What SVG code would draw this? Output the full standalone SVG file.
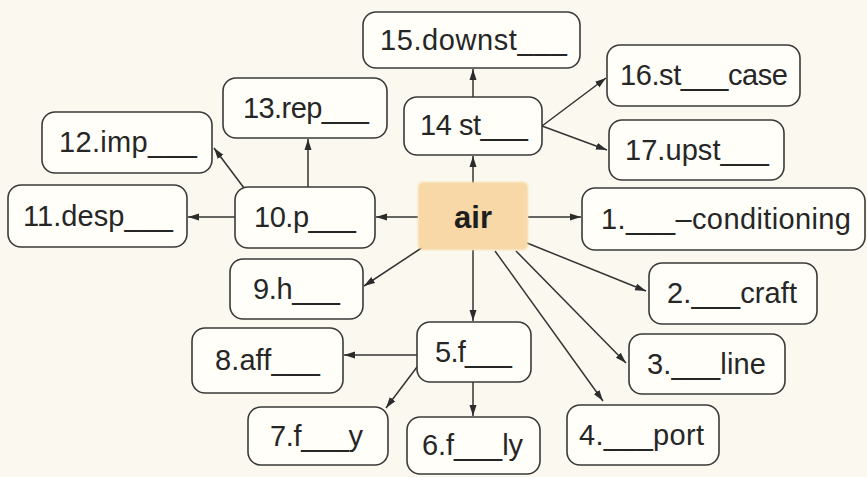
<svg xmlns="http://www.w3.org/2000/svg" width="867" height="477" viewBox="0 0 867 477">
<defs>
<style>
.box{fill:#fffef9;stroke:#3a3a3a;stroke-width:1.6}
.t{font-family:"Liberation Sans",Arial,sans-serif;font-size:29px;fill:#262626}
.c{fill:none;stroke:#333;stroke-width:1.5;marker-end:url(#ah)}
</style>
<marker id="ah" markerUnits="userSpaceOnUse" markerWidth="11" markerHeight="8" refX="11" refY="4" orient="auto">
<path d="M0,0.5 L11,4 L0,7.5 z" fill="#2c2c2c"/>
</marker>
<filter id="soft" x="-10%" y="-10%" width="120%" height="120%"><feGaussianBlur stdDeviation="1.2"/></filter>
</defs>
<rect width="867" height="477" fill="#fbf9ef"/>
<g id="connectors">
<path class="c" d="M473,183 L473,156"/>
<path class="c" d="M473,97 L473,69"/>
<path class="c" d="M542,126 L606,78"/>
<path class="c" d="M542,126 L607,150"/>
<path class="c" d="M418,217 L376,217"/>
<path class="c" d="M235,217 L188,217"/>
<path class="c" d="M244,188 L214,148"/>
<path class="c" d="M308,187 L308,139"/>
<path class="c" d="M528,217 L581,217"/>
<path class="c" d="M423,247 L364,286"/>
<path class="c" d="M473,250 L473,321"/>
<path class="c" d="M527,243 L646,291"/>
<path class="c" d="M516,251 L626,363"/>
<path class="c" d="M495,251 L603,401"/>
<path class="c" d="M417,355 L344,355"/>
<path class="c" d="M417,367 L386,408"/>
<path class="c" d="M473,382 L473,416"/>
</g>
<g id="air">
<rect x="418" y="182" width="110" height="68" rx="5" fill="#f7d8a6" filter="url(#soft)"/>
<text x="473" y="228" text-anchor="middle" font-family="Liberation Sans, Arial, sans-serif" font-size="31" font-weight="bold" fill="#1e1e1e">air</text>
</g>
<g id="n15"><rect class="box" x="363" y="12" width="217" height="56" rx="13"/><text class="t" x="380" y="50" textLength="187" lengthAdjust="spacing">15.downst___</text></g>
<g id="n14"><rect class="box" x="404" y="97" width="138" height="58" rx="13"/><text class="t" x="420" y="135" textLength="108" lengthAdjust="spacing">14 st___</text></g>
<g id="n13"><rect class="box" x="223" y="78" width="164" height="60" rx="13"/><text class="t" x="243" y="118" textLength="126" lengthAdjust="spacing">13.rep___</text></g>
<g id="n12"><rect class="box" x="42" y="112" width="170" height="61" rx="13"/><text class="t" x="59" y="152" textLength="138" lengthAdjust="spacing">12.imp___</text></g>
<g id="n16"><rect class="box" x="607" y="45" width="193" height="61" rx="13"/><text class="t" x="620" y="85" textLength="168" lengthAdjust="spacing">16.st___case</text></g>
<g id="n17"><rect class="box" x="609" y="120" width="175" height="60" rx="13"/><text class="t" x="625" y="160" textLength="144" lengthAdjust="spacing">17.upst___</text></g>
<g id="n11"><rect class="box" x="8" y="185" width="179" height="62" rx="13"/><text class="t" x="23" y="226" textLength="150" lengthAdjust="spacing">11.desp___</text></g>
<g id="n10"><rect class="box" x="235" y="187" width="140" height="61" rx="13"/><text class="t" x="254" y="227" textLength="102" lengthAdjust="spacing">10.p___</text></g>
<g id="n1"><rect class="box" x="582" y="188" width="283" height="62" rx="13"/><text class="t" x="601" y="229" textLength="250" lengthAdjust="spacing">1.___–conditioning</text></g>
<g id="n9"><rect class="box" x="230" y="259" width="133" height="60" rx="13"/><text class="t" x="253" y="299" textLength="87" lengthAdjust="spacing">9.h___</text></g>
<g id="n2"><rect class="box" x="649" y="263" width="168" height="61" rx="13"/><text class="t" x="667" y="303" textLength="130" lengthAdjust="spacing">2.___craft</text></g>
<g id="n5"><rect class="box" x="417" y="322" width="114" height="60" rx="13"/><text class="t" x="435" y="362" textLength="77" lengthAdjust="spacing">5.f___</text></g>
<g id="n8"><rect class="box" x="192" y="328" width="151" height="65" rx="13"/><text class="t" x="215" y="370" textLength="105" lengthAdjust="spacing">8.aff___</text></g>
<g id="n3"><rect class="box" x="629" y="334" width="156" height="60" rx="13"/><text class="t" x="647" y="374" textLength="119" lengthAdjust="spacing">3.___line</text></g>
<g id="n4"><rect class="box" x="567" y="405" width="152" height="60" rx="13"/><text class="t" x="579" y="445" textLength="125" lengthAdjust="spacing">4.___port</text></g>
<g id="n7"><rect class="box" x="248" y="407" width="140" height="58" rx="13"/><text class="t" x="270" y="446" textLength="93" lengthAdjust="spacing">7.f___y</text></g>
<g id="n6"><rect class="box" x="407" y="417" width="133" height="57" rx="13"/><text class="t" x="422" y="455" textLength="101" lengthAdjust="spacing">6.f___ly</text></g>
</svg>
